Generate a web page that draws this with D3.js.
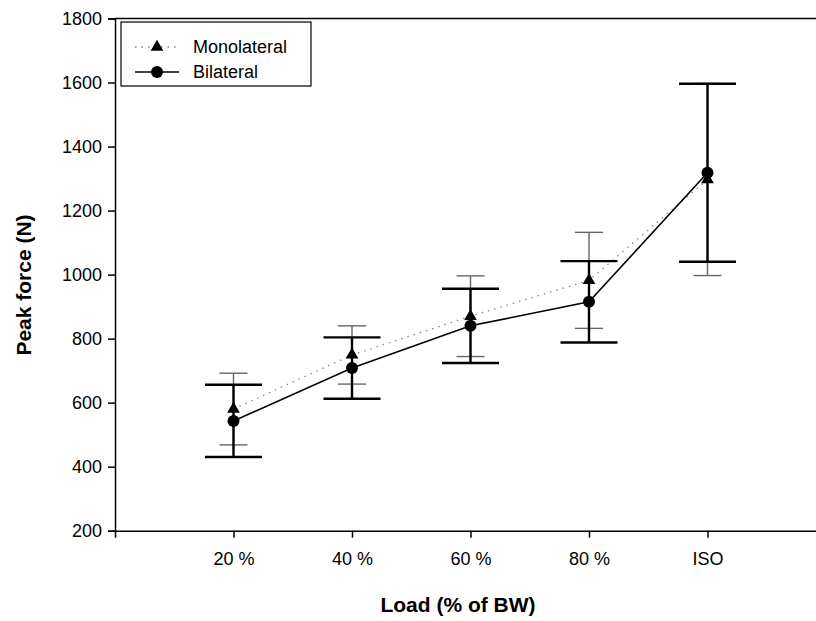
<!DOCTYPE html>
<html><head><meta charset="utf-8">
<script src="https://cdn.jsdelivr.net/npm/d3@7"></script>
<style>
html,body{margin:0;padding:0;background:#fff;}
svg{display:block;font-family:Arial,"Liberation Sans",sans-serif;}
</style></head>
<body>
<svg id="chart" width="816" height="621"></svg>
<script>
const categories = ["20 %", "40 %", "60 %", "80 %", "ISO"];
const monoMean = [580, 749, 870, 982, 1297];
const monoSD = [112, 91, 126, 150, 300];
const bilMean = [543, 708, 840, 915, 1318];
const bilSD = [113, 96, 116, 127, 278];
const yTicks = [200, 400, 600, 800, 1000, 1200, 1400, 1600, 1800];

const svg = d3.select("#chart");
const x = d3.scaleLinear().domain([0, 6]).range([115, 826]);
const y = d3.scaleLinear().domain([200, 1800]).range([530.7, 18.5]);

// frame top line
svg.append("line").attr("x1", 115).attr("x2", 826).attr("y1", y(1800)).attr("y2", y(1800))
  .attr("stroke", "#000").attr("stroke-width", 1.5);

// y axis
const yAxis = svg.append("g").attr("transform", "translate(115,0)")
  .call(d3.axisLeft(y).tickValues(yTicks).tickSize(7).tickPadding(6).tickFormat(d3.format("d")));
// x axis
const xAxis = svg.append("g").attr("transform", `translate(0,${y(200)})`)
  .call(d3.axisBottom(x).tickValues([1,2,3,4,5]).tickSize(7).tickPadding(15)
    .tickFormat((d) => categories[d - 1]));
[yAxis, xAxis].forEach(g => {
  g.select(".domain").attr("stroke-width", 1.5);
  g.selectAll(".tick line").attr("stroke-width", 1.5);
  g.selectAll("text").attr("font-size", 18).attr("font-family", "Arial, 'Liberation Sans', sans-serif").attr("fill", "#000");
});

// axis titles
svg.append("text").attr("x", 458).attr("y", 612).attr("text-anchor", "middle")
  .attr("font-size", 21).attr("font-weight", "bold").text("Load (% of BW)");
svg.append("text").attr("transform", `translate(31,285) rotate(-90)`)
  .attr("text-anchor", "middle").attr("font-size", 21).attr("font-weight", "bold").text("Peak force (N)");

const idx = d3.range(categories.length);
// lines
svg.append("path").datum(idx)
  .attr("d", d3.line().x(i => x(i + 1)).y(i => y(monoMean[i])))
  .attr("fill", "none").attr("stroke", "#888").attr("stroke-width", 1.3).attr("stroke-dasharray", "1.5,5");
svg.append("path").datum(idx)
  .attr("d", d3.line().x(i => x(i + 1)).y(i => y(bilMean[i])))
  .attr("fill", "none").attr("stroke", "#000").attr("stroke-width", 1.6);

// error bars
function errBars(mean, sd, cap, color, w) {
  const g = svg.append("g").attr("stroke", color).attr("stroke-width", w);
  idx.forEach(i => {
    const cx = x(i + 1), hi = y(mean[i] + sd[i]), lo = y(mean[i] - sd[i]);
    g.append("line").attr("x1", cx).attr("x2", cx).attr("y1", hi).attr("y2", lo);
    g.append("line").attr("x1", cx - cap / 2).attr("x2", cx + cap / 2).attr("y1", hi).attr("y2", hi);
    g.append("line").attr("x1", cx - cap / 2).attr("x2", cx + cap / 2).attr("y1", lo).attr("y2", lo);
  });
}
errBars(monoMean, monoSD, 28, "#666", 1.4);
errBars(bilMean, bilSD, 57, "#000", 2.4);

// markers
const tri = d3.symbol().type(d3.symbolTriangle).size(70);
svg.append("g").selectAll("path").data(idx).join("path")
  .attr("d", tri).attr("transform", i => `translate(${x(i + 1)},${y(monoMean[i])})`).attr("fill", "#000");
svg.append("g").selectAll("circle").data(idx).join("circle")
  .attr("cx", i => x(i + 1)).attr("cy", i => y(bilMean[i])).attr("r", 6).attr("fill", "#000");

// legend
const lg = svg.append("g");
lg.append("rect").attr("x", 121).attr("y", 22).attr("width", 190).attr("height", 64)
  .attr("fill", "#fff").attr("stroke", "#000").attr("stroke-width", 1.2);
lg.append("line").attr("x1", 135).attr("x2", 179).attr("y1", 47).attr("y2", 47)
  .attr("stroke", "#888").attr("stroke-width", 1.3).attr("stroke-dasharray", "1.5,5");
lg.append("path").attr("d", tri).attr("transform", "translate(157,47)").attr("fill", "#000");
lg.append("text").attr("x", 193).attr("y", 53).attr("font-size", 18).text("Monolateral");
lg.append("line").attr("x1", 135).attr("x2", 179).attr("y1", 72).attr("y2", 72)
  .attr("stroke", "#000").attr("stroke-width", 1.6);
lg.append("circle").attr("cx", 157).attr("cy", 72).attr("r", 6).attr("fill", "#000");
lg.append("text").attr("x", 193).attr("y", 78).attr("font-size", 18).text("Bilateral");
</script>
</body></html>
